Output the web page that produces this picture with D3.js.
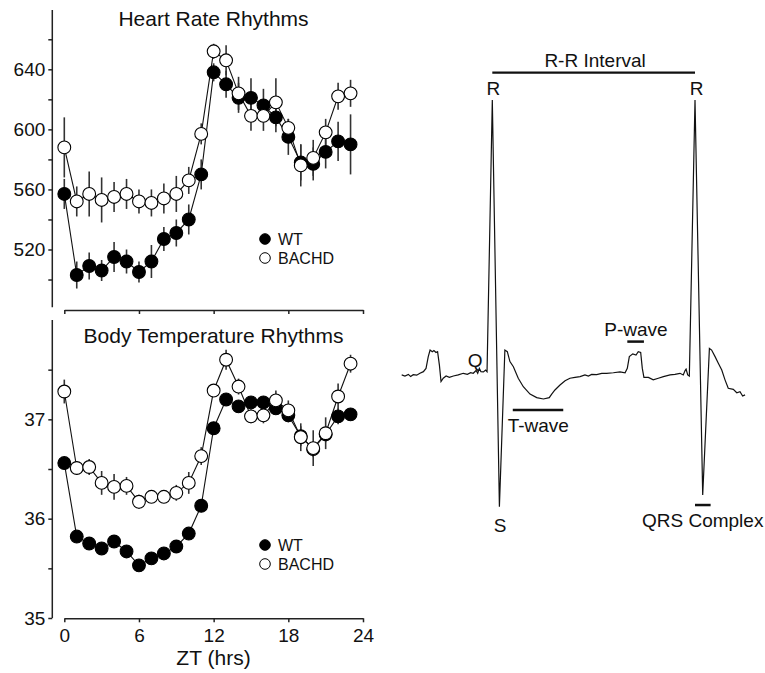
<!DOCTYPE html>
<html>
<head>
<meta charset="utf-8">
<script src="https://cdn.jsdelivr.net/npm/d3@7"></script>
<style>
  body { margin: 0; background: #fff; }
  svg { display: block; font-family: "Liberation Sans", Arial, sans-serif; }
  .axis path, .axis line { stroke: #222; stroke-width: 1.5; }
  .axis text { font-size: 19px; fill: #111; }
</style>
</head>
<body>
<div id="chart"></div>
<script>
// ZT hours 0..23
const hours = d3.range(0, 24);

// heart rate (bpm), mean and sem
const hrWT = [557, 503, 509, 506, 515, 512, 505, 512, 527, 531, 540, 570,
              638, 630, 621, 621, 616, 608, 595, 578, 577, 585, 592, 590];
const hrWTErr = [10, 9, 9, 7, 10, 8, 7, 11, 8, 9, 10, 10,
                 6, 9, 10, 13, 11, 10, 12, 12, 11, 11, 13, 20];
const hrBACHD = [588, 552, 557, 553, 555, 557, 552, 551, 554, 557, 566, 597,
                 652, 646, 624, 609, 609, 618, 601, 576, 581, 598, 622, 624];
const hrBACHDErr = [20, 10, 15, 15, 10, 10, 8, 9, 10, 12, 9, 7,
                    5, 10, 11, 10, 10, 16, 6, 14, 12, 9, 9, 9];

// body temperature (deg C), mean and sem
const btWT = [36.56, 35.82, 35.75, 35.70, 35.77, 35.67, 35.53, 35.60, 35.65, 35.72, 35.85, 36.13,
              36.91, 37.20, 37.13, 37.17, 37.17, 37.11, 37.04, 36.83, 36.70, 36.85, 37.03, 37.05];
const btWTErr = [0.05, 0.04, 0.04, 0.04, 0.04, 0.06, 0.05, 0.05, 0.04, 0.04, 0.04, 0.04,
                 0.05, 0.05, 0.05, 0.05, 0.05, 0.05, 0.07, 0.10, 0.08, 0.08, 0.08, 0.05];
const btBACHD = [37.28, 36.51, 36.52, 36.36, 36.32, 36.33, 36.17, 36.22, 36.22, 36.26, 36.36, 36.63,
                 37.29, 37.60, 37.33, 37.03, 37.04, 37.19, 37.09, 36.82, 36.71, 36.86, 37.23, 37.56];
const btBACHDErr = [0.12, 0.07, 0.08, 0.12, 0.13, 0.09, 0.07, 0.05, 0.05, 0.08, 0.11, 0.09,
                    0.06, 0.10, 0.08, 0.07, 0.08, 0.10, 0.10, 0.14, 0.18, 0.16, 0.13, 0.09];

const xTicks = [0, 6, 12, 18, 24];
const hrTicks = [500, 520, 540, 560, 580, 600, 620, 640, 660];
const hrLabels = [520, 560, 600, 640];
const btTicks = [35, 35.5, 36, 36.5, 37, 37.5];
const btLabels = [35, 36, 37];

// ECG trace: time (ms), voltage (mV)
const ecgTime = [0, 1.6, 3.3, 4.4, 5.7, 7.4, 9.0, 10.7, 12.0, 13.1, 14.0, 15.1, 15.9, 16.9, 17.7,
  18.6, 19.4, 20.5, 21.9, 23.5, 25.5, 27.9, 30.4, 32.4, 34.0, 35.3, 36.7, 37.5, 38.3, 39.1, 40.3,
  41.4, 42.1, 44.7, 48.2, 50.9, 52.1, 53.4, 55.1, 57.5, 60.0, 63.3, 66.6, 69.9, 72.8, 74.0, 75.6,
  78.1, 80.6, 83.0, 85.5, 88.0, 90.4, 92.1, 93.7, 96.2, 98.7, 101.1, 104.4, 107.7, 110.2, 111.3,
  112.3, 114.0, 115.6, 116.7, 117.9, 118.7, 119.5, 121.7, 124.1, 126.6, 129.1, 132.4, 134.8,
  137.3, 138.9, 139.8, 140.3, 141.1, 141.9, 144.7, 148.5, 151.8, 152.9, 154.6, 156.2, 157.9,
  159.5, 161.1, 163.6, 165.3, 166.9, 168.2, 169.4];
const ecgVolt = [-0.006, -0.010, -0.004, -0.012, -0.005, -0.007, 0, 0.006, 0.018, 0.061, 0.085,
  0.079, 0.083, 0.076, 0.079, 0.030, -0.030, -0.018, -0.010, -0.015, -0.010, -0.006, 0, -0.004,
  0.002, 0, 0.010, 0, 0.018, 0.006, 0.005, 0.012, 0.006, 1.0, -0.488, 0.085, 0.079, 0.043, 0.024,
  -0.018, -0.049, -0.076, -0.089, -0.094, -0.089, -0.076, -0.061, -0.043, -0.027, -0.018, -0.015,
  -0.012, -0.006, -0.010, -0.004, -0.005, 0, 0, 0.002, 0.005, 0.002, 0.018, 0.061, 0.071, 0.067,
  0.079, 0.076, 0.018, -0.015, -0.015, -0.024, -0.018, -0.012, -0.006, -0.004, 0, -0.006, 0.010,
  0.015, -0.006, -0.010, 1.0, -0.445, 0.091, 0.085, 0.061, 0.037, 0.012, -0.024, -0.055, -0.059,
  -0.071, -0.067, -0.083, -0.079];

const width = 765, height = 673;
const svg = d3.select('#chart').append('svg')
  .attr('width', width).attr('height', height);

const x = d3.scaleLinear().domain([0, 24]).range([64.3, 363]);
const axisX = 52.3;

const drawPanel = (cfg) => {
  const y = d3.scaleLinear().domain(cfg.domain).range(cfg.range);
  const g = svg.append('g');

  // y axis
  const yAxis = d3.axisLeft(y).tickValues(cfg.ticks).tickSize(4).tickPadding(3)
    .tickFormat(d => cfg.labels.indexOf(d) > -1 ? d : '');
  const ya = g.append('g').attr('class', 'axis')
    .attr('transform', 'translate(' + axisX + ',0)').call(yAxis);
  ya.select('.domain').attr('d', 'M0,' + cfg.range[0] + 'V' + cfg.range[1]);

  // x axis
  const xAxis = d3.axisBottom(x).tickValues(xTicks).tickSize(4).tickPadding(6)
    .tickSizeOuter(0).tickFormat(cfg.xlabels ? d => d : '');
  g.append('g').attr('class', 'axis')
    .attr('transform', 'translate(0,' + cfg.xAt + ')').call(xAxis);

  g.append('text').attr('x', 213.5).attr('y', cfg.titleY)
    .attr('text-anchor', 'middle').attr('font-size', 21).attr('fill', '#111')
    .text(cfg.title);

  const line = d3.line().x((d, i) => x(hours[i])).y(d => y(d));
  const series = [
    { vals: cfg.wt, err: cfg.wtErr, fill: '#000' },
    { vals: cfg.bachd, err: cfg.bachdErr, fill: '#fff' }
  ];
  for (let s of series) {
    g.append('path').datum(s.vals).attr('d', line)
      .attr('fill', 'none').attr('stroke', '#111').attr('stroke-width', 1.1);
  }
  for (let s of series) {
    g.selectAll(null).data(s.vals).enter().append('line')
      .attr('x1', (d, i) => x(hours[i])).attr('x2', (d, i) => x(hours[i]))
      .attr('y1', (d, i) => y(d - s.err[i])).attr('y2', (d, i) => y(d + s.err[i]))
      .attr('stroke', '#333').attr('stroke-width', 1.6);
  }
  for (let s of series) {
    g.selectAll(null).data(s.vals).enter().append('circle')
      .attr('cx', (d, i) => x(hours[i])).attr('cy', d => y(d)).attr('r', 6.4)
      .attr('fill', s.fill).attr('stroke', '#000').attr('stroke-width', 1.1);
  }

  // legend
  const leg = [['WT', '#000'], ['BACHD', '#fff']];
  leg.forEach((l, i) => {
    const ly = cfg.legendY + i * 19;
    g.append('circle').attr('cx', 265).attr('cy', ly).attr('r', 5.3)
      .attr('fill', l[1]).attr('stroke', '#000').attr('stroke-width', 1);
    g.append('text').attr('x', 278).attr('y', ly).attr('dy', '0.36em')
      .attr('font-size', 16).attr('fill', '#111').text(l[0]);
  });
};

drawPanel({
  domain: [481.5, 679.5], range: [307.3, 10], ticks: hrTicks, labels: hrLabels,
  xAt: 310, xlabels: false, title: 'Heart Rate Rhythms', titleY: 25.5, legendY: 239,
  wt: hrWT, wtErr: hrWTErr, bachd: hrBACHD, bachdErr: hrBACHDErr
});
drawPanel({
  domain: [35, 38], range: [618, 320], ticks: btTicks, labels: btLabels,
  xAt: 618.3, xlabels: true, title: 'Body Temperature Rhythms', titleY: 342.5, legendY: 545,
  wt: btWT, wtErr: btWTErr, bachd: btBACHD, bachdErr: btBACHDErr
});

svg.append('text').attr('x', 213.5).attr('y', 664.5).attr('text-anchor', 'middle')
  .attr('font-size', 21).attr('fill', '#111').text('ZT (hrs)');

// ECG schematic
const ex = d3.scaleLinear().domain([0, 100]).range([401.7, 604.4]);
const ey = d3.scaleLinear().domain([0, 1]).range([373.3, 100]);
const eg = svg.append('g');
eg.append('path').datum(ecgTime.map((t, i) => [t, ecgVolt[i]]))
  .attr('d', d3.line().x(d => ex(d[0])).y(d => ey(d[1])))
  .attr('fill', 'none').attr('stroke', '#111').attr('stroke-width', 1.2)
  .attr('stroke-linejoin', 'miter');

const bars = [
  { t0: 44.7, t1: 144.7, v: 1.10, w: 2.2 },
  { t0: 111.3, t1: 119.5, v: 0.116, w: 2.5 },
  { t0: 54.8, t1: 79.7, v: -0.134, w: 2.5 },
  { t0: 144.7, t1: 152.4, v: -0.482, w: 2.5 }
];
eg.selectAll(null).data(bars).enter().append('line')
  .attr('x1', d => ex(d.t0)).attr('x2', d => ex(d.t1))
  .attr('y1', d => ey(d.v)).attr('y2', d => ey(d.v))
  .attr('stroke', '#111').attr('stroke-width', d => d.w);

const labels = [
  { t: 95.4, v: 1.146, s: 'R-R Interval' },
  { t: 45.2, v: 1.043, s: 'R' },
  { t: 145.5, v: 1.043, s: 'R' },
  { t: 36.2, v: 0.049, s: 'Q' },
  { t: 48.5, v: -0.555, s: 'S' },
  { t: 115.6, v: 0.161, s: 'P-wave' },
  { t: 67.4, v: -0.189, s: 'T-wave' },
  { t: 148.5, v: -0.537, s: 'QRS Complex' }
];
eg.selectAll(null).data(labels).enter().append('text')
  .attr('x', d => ex(d.t)).attr('y', d => ey(d.v)).attr('dy', '0.36em')
  .attr('text-anchor', 'middle').attr('font-size', 19).attr('fill', '#111')
  .text(d => d.s);
</script>
</body>
</html>
